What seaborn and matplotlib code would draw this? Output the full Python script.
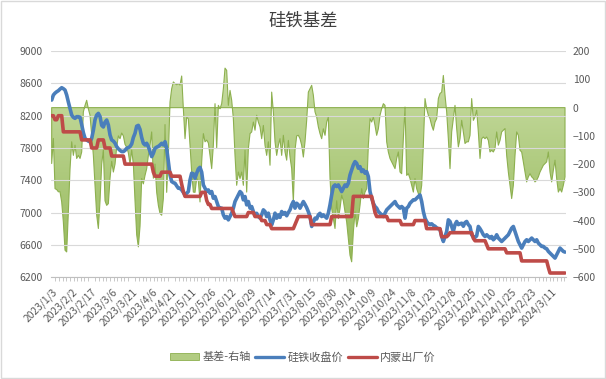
"""
硅铁基差 — futures close vs Inner Mongolia ex-works price, basis on the right axis
"""
import numpy as np
import seaborn as sns
import matplotlib.pyplot as plt
from matplotlib.patches import Patch, Rectangle
from matplotlib.lines import Line2D
from matplotlib.colors import LinearSegmentedColormap
from matplotlib.ticker import MultipleLocator

# x tick labels (one every 12 points)
date_labels = ["2023/1/3", "2023/2/2", "2023/2/17", "2023/3/6", "2023/3/21", "2023/4/6",
               "2023/4/21", "2023/5/11", "2023/5/26", "2023/6/12", "2023/6/29", "2023/7/14",
               "2023/7/31", "2023/8/15", "2023/8/30", "2023/9/14", "2023/10/9", "2023/10/24",
               "2023/11/8", "2023/11/23", "2023/12/8", "2023/12/25", "2024/1/10", "2024/1/25",
               "2024/2/23", "2024/3/11"]

# 硅铁收盘价 (left axis)
close_price = [
    8394, 8456, 8480, 8497, 8510, 8530, 8547, 8535, 8518, 8456,
    8370, 8290, 8208, 8180, 8167, 8188, 8188, 8180, 8090, 7990,
    7920, 7899, 7885, 7878, 7920, 8020, 8150, 8208, 8229, 8190,
    8080, 8060, 8120, 8147, 8085, 7961, 7899, 7885, 7860, 7817,
    7790, 7770, 7755, 7755, 7770, 7796, 7805, 7817, 7850, 7930,
    7982, 8070, 8080, 8030, 7930, 7858, 7837, 7858, 7817, 7755,
    7693, 7734, 7796, 7810, 7820, 7837, 7858, 7837, 7878, 7796,
    7631, 7466, 7384, 7370, 7363, 7330, 7301, 7300,
    7280, 7250, 7218, 7240, 7260, 7404, 7487, 7480, 7425, 7487,
    7540, 7560, 7500, 7342, 7301, 7260, 7280, 7239, 7260, 7177,
    7198, 7136, 7074, 7054, 7054, 6971, 6930, 6950, 6909, 6950,
    6992, 7054, 7136, 7177, 7218, 7260, 7239, 7157, 7198, 7095,
    7136, 7054, 7074, 7012, 6971, 6990, 6950, 6930, 6971, 7033,
    7012, 6950, 6992, 6909, 6847, 6909, 6992, 6930, 6971, 6940,
    7012, 6980, 7000, 6960, 7000, 7033, 7095, 7136, 7054, 7115,
    7095, 7054, 7095, 7136, 7100, 7060, 7010, 6950,
    6827, 6880, 6930, 6920, 6971, 6990, 6950, 6971, 6950, 6930,
    6992, 7095, 7218, 7322, 7342, 7322, 7342, 7301, 7260, 7301,
    7342, 7322, 7363, 7466, 7528, 7590, 7631, 7610, 7549, 7569,
    7507, 7528, 7487, 7507, 7445, 7260, 7177, 7115, 7074, 7054,
    7012, 6992, 6971, 6950, 6992, 7033, 7054, 7074, 7095, 7115,
    7136, 7095, 7074, 7054, 7074, 7054, 6930, 7054, 7074, 7115,
    7136, 7157, 7157, 7177, 7198, 7218, 7136, 7012, 6930, 6889,
    6860, 6850, 6860, 6840, 6830, 6810, 6800, 6790,
    6703, 6641, 6703, 6765, 6909, 6889, 6827, 6765, 6850, 6889,
    6850, 6860, 6868, 6830, 6875, 6889, 6850, 6827, 6724, 6700,
    6691, 6710, 6827, 6800, 6765, 6724, 6703, 6724, 6703, 6683,
    6703, 6662, 6683, 6724, 6683, 6662, 6641, 6662, 6683, 6703,
    6724, 6765, 6806, 6827, 6765, 6703, 6641, 6600, 6559, 6600,
    6641, 6662, 6641, 6662, 6683, 6662, 6641, 6662, 6621, 6600,
    6580, 6580, 6559, 6551, 6518, 6497, 6476, 6456, 6435, 6476,
    6518, 6559, 6538, 6518, 6509,
]

# 内蒙出厂价 (left axis)
nm_price = [
    8200, 8200, 8150, 8150, 8200, 8200, 8200, 8000, 8000, 8000,
    8000, 8000, 8000, 8000, 8000, 8000, 8000, 8000, 7900, 7900,
    7900, 7900, 7900, 7900, 7800, 7800, 7800, 7800, 7900, 7900,
    7900, 7900, 7800, 7800, 7800, 7800, 7700, 7700, 7700, 7700,
    7700, 7700, 7700, 7700, 7600, 7600, 7600, 7600, 7600, 7600,
    7600, 7600, 7600, 7600, 7600, 7600, 7600, 7600, 7600, 7600,
    7600, 7500, 7450, 7450, 7450, 7450, 7500, 7500, 7500, 7500,
    7500, 7500, 7450, 7450, 7450, 7450, 7450, 7450,
    7350, 7260, 7200, 7200, 7200, 7200, 7200, 7200, 7200, 7200,
    7200, 7200, 7250, 7250, 7250, 7150, 7100, 7100, 7050, 7050,
    7050, 7050, 7050, 7050, 7050, 7050, 7050, 7050, 7050, 7050,
    7050, 7000, 6950, 6950, 6950, 6950, 6950, 6950, 6950, 6950,
    7000, 7000, 7000, 7000, 6950, 6950, 6950, 6950, 6900, 6900,
    6900, 6850, 6850, 6850, 6800, 6800, 6800, 6800, 6800, 6800,
    6800, 6800, 6800, 6800, 6800, 6800, 6800, 6800, 6850, 6900,
    6950, 6950, 6950, 6950, 6950, 6950, 6950, 6950,
    6850, 6850, 6850, 6850, 6850, 6850, 6850, 6850, 6850, 6850,
    6850, 6850, 6950, 6950, 6950, 6950, 6950, 6950, 6950, 6950,
    6950, 6950, 6950, 6950, 6950, 7200, 7200, 7200, 7200, 7200,
    7200, 7200, 7200, 7200, 7200, 7200, 7200, 7100, 7000, 6950,
    6950, 6950, 6950, 6950, 6950, 6950, 6900, 6900, 6900, 6900,
    6900, 6900, 6900, 6900, 6850, 6850, 6850, 6850, 6850, 6850,
    6850, 6850, 6900, 6900, 6900, 6900, 6900, 6900, 6900, 6800,
    6800, 6800, 6800, 6800, 6800, 6800, 6800, 6800,
    6700, 6700, 6700, 6700, 6720, 6750, 6750, 6750, 6750, 6750,
    6750, 6750, 6750, 6750, 6750, 6750, 6750, 6750, 6750, 6680,
    6650, 6650, 6650, 6650, 6650, 6650, 6650, 6600, 6550, 6550,
    6550, 6550, 6550, 6550, 6550, 6550, 6550, 6550, 6550, 6500,
    6500, 6500, 6500, 6500, 6500, 6500, 6500, 6500, 6400, 6400,
    6400, 6400, 6400, 6400, 6400, 6400, 6400, 6400, 6400, 6400,
    6400, 6400, 6400, 6400, 6320, 6250, 6250, 6250, 6250, 6250,
    6250, 6250, 6250, 6250, 6250,
]

# 基差 (right axis)
basis = [
    -198, -109, -287, -290, -298, -298, -334, -405, -505, -511,
    -369, -217, -121, -169, -133, -180, -169, -180, -157, -15,
    8, 26, -4, -27, -98, -169, -275, -380, -428, -330,
    -200, -150, -330, -346, -340, -250, -190, -228, -200, -140,
    -100, -110, -90, -100, -130, -140, -160, -200, -150, -200,
    -330, -450, -493, -420, -251, -270, -240, -216, -169, -133,
    -86, -250, -200, -300, -346, -375, -381, -322, -60, -300,
    -169, 20, 67, 91, 85, 81, 85, 80,
    112, -4, -110, -33, -40, -133, -228, -299, -300, -250,
    -260, -334, -192, -92, -121, -115, -125, -169, -216, -133,
    14, -145, 8, -4, 14, 67, 140, 132, 8, 61,
    26, -39, -169, -275, -228, -251, -228, -275, -151, -299,
    -145, -92, -86, -51, -80, -27, -51, -68, -110, -63,
    -133, -169, -121, -204, 55, -15, -121, -169, -133, -110,
    -169, -98, -157, -186, -116, -175, -216, -334, -150, -100,
    -98, -110, -133, -175, -121, -45, 55, 67,
    79, 44, -15, -33, -68, -92, -110, -75, -98, -51,
    -33, -250, -357, -393, -428, -330, -393, -357, -310, -330,
    -369, -405, -464, -523, -546, -440, -369, -422, -393, -346,
    -287, -322, -299, -287, -133, -39, -51, -33, -63, -98,
    -75, -27, -4, 14, 8, -121, -157, -180, -192, -204,
    -216, -180, -157, -228, -234, -110, 2, -240, -234, -251,
    -275, -299, -251, -287, -304, -316, -275, -133, 32, -4,
    -27, -39, -63, -80, -51, -39, 32, 50,
    55, 114, 44, -15, -110, -216, -86, -39, 8, -74,
    -139, -110, -45, -86, -127, -121, -121, -98, 32, -45,
    -33, -9, -86, -180, -110, -104, -110, -104, -116, -157,
    -151, -157, -145, -86, -133, -116, -86, -80, -74, -169,
    -228, -275, -322, -275, -169, -86, -98, -151, -157, -192,
    -228, -263, -245, -234, -245, -251, -263, -257, -245, -228,
    -216, -204, -198, -192, -157, -228, -263, -222, -186, -251,
    -299, -287, -299, -275, -245,
]

sns.set_theme(style="white")
plt.rcParams["font.family"] = ["Noto Sans CJK SC", "DejaVu Sans"]

BLUE = "#4a7ebb"
RED = "#be4b48"
GREEN_EDGE = "#8db04f"
GRAY = "#595959"

x = np.arange(len(close_price))

fig = plt.figure(figsize=(6.06, 3.79), dpi=100)
ax = fig.add_axes([0.0842, 0.269, 0.8498, 0.596])
ax2 = ax.twinx()

# basis area on the right axis, gradient fill clipped to the area polygon
poly = ax2.fill_between(x, 0, basis, facecolor="none", edgecolor=GREEN_EDGE, linewidth=0.8, zorder=2)
cmap = LinearSegmentedColormap.from_list("g", ["#93b756", "#cde0aa"])
grad = np.linspace(0, 1, 256).reshape(-1, 1)
im = ax2.imshow(grad, extent=[-0.4, len(x) - 0.4, -600, 200], origin="lower",
                aspect="auto", cmap=cmap, zorder=1)
im.set_clip_path(poly.get_paths()[0], transform=ax2.transData)

# price lines on the left axis
sns.lineplot(x=x, y=close_price, ax=ax, color=BLUE, linewidth=2.6, legend=False)
sns.lineplot(x=x, y=nm_price, ax=ax, color=RED, linewidth=2.6, legend=False)

ax.set_zorder(ax2.get_zorder() + 1)
ax.patch.set_visible(False)

ax.set_xlim(-0.4, len(x) - 0.4)
ax.set_ylim(6200, 9000)
ax.set_yticks(np.arange(6200, 9001, 400))
ax2.set_ylim(-600, 200)
ax2.set_yticks(np.arange(-600, 201, 100))

ax.grid(axis="y", color="#d9d9d9", linewidth=0.8)
ax.grid(axis="x", visible=False)

for a in (ax, ax2):
    for s in ("left", "right", "top", "bottom"):
        a.spines[s].set_visible(False)
ax.spines["bottom"].set_visible(True)
ax.spines["bottom"].set_color("#bfbfbf")
ax.spines["bottom"].set_linewidth(0.8)

ax.set_xticks(np.arange(0, 12 * len(date_labels), 12))
ax.set_xticklabels(date_labels, rotation=45, ha="right", va="top", rotation_mode="anchor")
ax.xaxis.set_minor_locator(MultipleLocator(12 / 5.5))
ax.tick_params(axis="x", which="major", length=0, pad=7, labelsize=7.4, labelcolor=GRAY)
ax.tick_params(axis="x", which="minor", bottom=True, length=3, width=0.6, color="#bfbfbf")
ax.tick_params(axis="y", length=0, pad=6, labelsize=7.5, labelcolor=GRAY)
ax2.tick_params(axis="y", length=0, pad=5, labelsize=7.5, labelcolor=GRAY)
ax.set_xlabel("")
ax.set_ylabel("")

fig.text(0.5, 0.946, "硅铁基差", ha="center", va="center", fontsize=12.5, color="#404040")

handles = [Patch(facecolor="#b2cc82", edgecolor=GREEN_EDGE, linewidth=0.6),
           Line2D([0], [0], color=BLUE, linewidth=2.4),
           Line2D([0], [0], color=RED, linewidth=2.4)]
fig.legend(handles, ["基差-右轴", "硅铁收盘价", "内蒙出厂价"], loc="center",
           bbox_to_anchor=(0.5, 0.058), ncol=3, frameon=False, fontsize=8,
           handlelength=2.6, handletextpad=0.3, columnspacing=0.4,
           labelcolor=GRAY)

fig.patches.append(Rectangle((0.001, 0.002), 0.997, 0.996, transform=fig.transFigure,
                             fill=False, edgecolor="#d9d9d9", linewidth=1))

fig.savefig("out.png", dpi=100)
print("saved out.png")
